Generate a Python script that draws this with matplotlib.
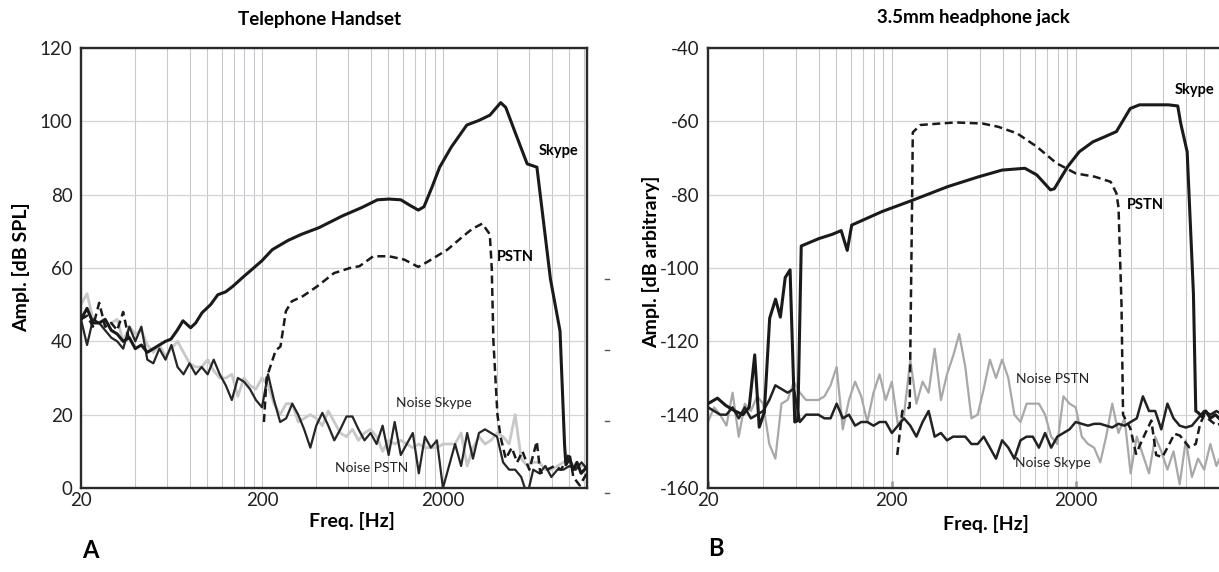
import numpy as np
import matplotlib
matplotlib.use('Agg')
import matplotlib.pyplot as plt
from matplotlib.ticker import NullFormatter
from matplotlib.lines import Line2D

plt.rcParams['font.family'] = ['Lato', 'DejaVu Sans']
plt.rcParams['axes.unicode_minus'] = False

W, H = 1219, 572

# sampling grid of the noise spectra (Hz)
freq = [20, 21.6, 23.3, 25.2, 27.2, 29.4, 31.7, 34.2, 37.0, 39.9, 43.1, 46.5, 50.2, 54.2, 58.6,
        63.2, 68.3, 73.7, 79.6, 86.0, 92.8, 100.2, 108.2, 116.9, 126.2, 136.3, 147.1, 158.9, 171.5, 185.2,
        200, 216, 233, 252, 272, 294, 317, 342, 370, 399, 431, 465, 502, 542, 586,
        632, 683, 737, 796, 860, 928, 1002, 1082, 1169, 1262, 1363, 1471, 1589, 1715, 1852,
        2000, 2160, 2333, 2520, 2721, 2929, 3162, 3415, 3687, 3981, 4299, 4642, 5012, 5412, 5843,
        6310, 6813, 7356, 7943, 8577, 9261, 10000, 10800, 11660, 12590]

# ---- A: telephone handset (dB SPL) ----
noise_pstn_A = [46, 39, 46, 45, 43, 41, 40, 38,
                44, 40, 44, 35, 34, 38, 35, 39, 33, 31, 34, 31, 33, 31, 35, 31, 28, 24, 30, 29, 27, 24, 22, 31,
                24, 18, 19, 23, 20, 16, 11, 17, 20.5, 17, 13, 16, 19.5, 19.5, 16, 13, 15, 12, 17, 9, 18, 9, 12, 15, 4, 14, 11, 13,
                0, 6, 12, 6, 15, 8, 15, 16, 15, 14, 7, 5, 5, 3, -2, 5, 4, 6, 3, 5, 5, 6, 5, 7, 5]
noise_skype_A = [50, 53, 46, 45, 44, 45, 46, 40, 44, 42, 43, 39, 37, 39, 36, 38, 40, 37, 34, 33, 33, 35, 32, 30, 30, 31, 25, 30, 28, 27, 30,
                 28, 23, 20, 23, 23, 18, 19, 20, 19, 17, 21, 18, 15, 14, 16, 13, 15, 16, 14, 10,
                 13, 12, 13, 12, 11, 12, 11, 11, 11, 12, 12, 12, 15, 6, 11, 14, 12, 13, 15, 14,
                 12, 20, 8, 6, 7, 7, 5, 5, 6, 7, 8, 5, 6, 6]
skype_A_f = [20, 21.6, 23.3, 25.2, 27.2, 29.4, 31.7, 34.2, 37, 39.9, 43.1, 46.5, 50.2, 54.2, 58.6, 62.8, 68, 73.2, 80.7, 86,
             93.3, 104, 114, 126, 138, 157, 175, 200, 228, 278, 331, 413, 556, 713, 869, 1007, 1170, 1323, 1461, 1571,
             1738, 1918, 2225, 2710, 3146, 3637, 4170, 4445, 5036, 5838, 6610, 7850, 8870, 9400, 9560, 10000, 10500,
             11000, 11600, 12600]
skype_A = [46, 49, 45, 45, 46, 43, 42, 40, 41, 38, 39, 37, 38, 39, 40, 40.6, 43, 45.6, 43.7, 45,
           47.8, 50, 52.7, 53.5, 55, 57.5, 59.5, 62, 65, 67.5, 69.2, 71, 74.2, 76.5, 78.6, 78.8, 78.6, 77, 75.8, 76.7,
           82, 87.5, 93, 99, 100.2, 101.7, 105.1, 103.8, 96.7, 88.4, 87.5, 57, 42.8, 11.6, 6.3, 8, 5,
           7, 4, 6]
pstn_A_f = [20, 21.6, 23.3, 25.2, 27.2, 29.4, 31.7, 34.2, 37, 100, 205, 212, 222, 238, 253, 271, 292, 336, 404, 500,
            613, 692, 824, 1007, 1222, 1461, 1657, 2116, 2590, 2910, 3297, 3630, 3720, 3800, 4000, 4160, 4445, 4800,
            5140, 5500, 6000, 6600, 6900, 7500, 8300, 9000, 10000, 10500, 11400, 12600]
pstn_A = [46, 47, 44, 50.5, 44, 45, 43, 48, 40, np.nan, 18, 30, 33, 37.5, 38.6, 48.2, 50.9, 52.3, 55, 58.6,
          60, 60.5, 63.2, 63.2, 62.3, 60.3, 61.8, 65, 68.7, 70.7, 72.1, 69.2, 60, 40, 20, 14, 8, 11,
          7, 10, 5, 12.7, 4, 5, 6, 5, 9.5, 3, 0.7, 4.4]

# ---- B: 3.5 mm headphone jack (dB arbitrary) ----
noise_pstn_B = [-142, -138, -140, -143, -134, -146, -137, -139, -135, -137,
                -148, -152, -137, -136, -131, -134, -136, -136, -136, -135,
                -132, -127, -144, -136, -131, -135, -142, -134, -129, -136,
                -131, -143, -140, -125, -137, -131, -134, -122, -136, -129,
                -124, -118, -127, -141, -140, -133, -125, -130, -125, -130,
                -140, -142, -137, -137, -137, -140, -146, -148, -135, -137,
                -138, -146, -148, -149, -153, -146, -137, -145, -141, -156,
                -146, -151, -156, -146, -150, -155, -150, -159, -147, -157,
                -152, -155, -148, -154, -150]
noise_skype_B = [-138, -139, -140, -140, -138, -141, -138, -141, -140, -139,
                 -136, -132, -133, -134, -133, -142, -140, -140, -140, -141,
                 -141, -137, -141, -140, -143, -142, -142, -143, -142, -142,
                 -145, -143, -141, -143, -146, -142, -139, -146, -145, -147,
                 -146, -146, -146, -148, -148, -146, -149, -152, -147, -149,
                 -152, -147, -146, -146, -149, -145, -149, -146, -145, -144,
                 -142, -142.5, -143, -142.5, -142.5, -143, -143.5, -142.5, -143, -142,
                 -141, -135, -139, -139, -144, -137, -141, -143, -143.5, -143,
                 -141, -139, -140, -139, -140]
skype_B_f = [20, 22.5, 25, 28, 31, 33.5, 35.9, 38, 40.5, 43.3, 46.6, 49.5, 52.6, 55.9, 59.3, 61.6, 64.3, 80, 95, 106,
             114.4, 121, 177, 260, 403, 595, 795, 1058, 1228, 1458, 1530, 1806, 2092, 2480, 2880, 3330, 3500, 3960,
             4450, 6380, 7180, 7450, 8080, 8740, 9000, 9300, 9700, 10200, 10800, 11500, 12600]
skype_B = [-137, -135.5, -137.5, -139, -140, -138, -123.7, -143.4, -139.3, -113.7, -108.5, -113.4, -102.6, -100.5, -142, -141.6, -94, -92, -90.8, -89.8,
           -95.2, -88.3, -84.6, -81.5, -77.8, -75.1, -73.3, -72.8, -74.6, -78.7, -78.4, -72.4, -68.3, -65.6, -64.2, -62.8, -61, -56.5,
           -55.5, -55.5, -55.8, -60.5, -68.3, -107, -139, -139.5, -140.5, -139, -141, -140, -142]
pstn_B_f = [214, 228, 250, 258, 260, 286, 365, 444, 623, 760, 961, 1228, 1570, 2000, 2540, 3100, 3330, 3420, 3550, 3620,
            3970, 4260, 4720, 5160, 5480, 5920, 6400, 6900, 7380, 8300, 9000, 9500, 10000, 11700, 12600]
pstn_B = [-151, -139, -138, -80, -63, -61, -60.6, -60.3, -60.6, -61.5, -63.3, -66.9, -71.4, -74.2, -75.1, -76.5, -79.6, -83.5, -110, -140,
          -143.8, -150.7, -145.7, -141.6, -151, -151.6, -148.4, -145.2, -145.7, -148.9, -148, -142.5, -140.2, -143, -142]

grid_f = [20 * m for m in range(1, 10)] + [200 * m for m in range(1, 10)] + [2000 * m for m in range(1, 7)]


def fx(x):
    return x / W


def fy(y):
    return 1 - y / H


def style(ax, ylo, yhi):
    ax.set_xscale('log')
    ax.set_xlim(20, 12500)
    ax.set_ylim(ylo, yhi)
    ax.set_xticks(grid_f, minor=True)
    ax.set_xticks([20, 200, 2000], ['20', '200', '2000'])
    ax.xaxis.set_minor_formatter(NullFormatter())
    ax.set_yticks(np.arange(ylo, yhi + 1, 20))
    ax.grid(which='both', axis='x', color='#c6c9ce', lw=0.8)
    ax.grid(which='major', axis='y', color='#d4d4d4', lw=0.9)
    ax.tick_params(which='both', length=0, labelsize=13.5, colors='#222222')
    ax.tick_params(axis='x', pad=3)
    ax.tick_params(axis='y', pad=6)
    for s in ax.spines.values():
        s.set_linewidth(1.7)
        s.set_color('#2a2a2a')
    ax.set_axisbelow(True)


fig = plt.figure(figsize=(W / 100, H / 100), dpi=100)
axA = fig.add_axes([fx(81), fy(488), 506 / W, 440 / H])
axB = fig.add_axes([fx(708), fy(488), 514 / W, 440 / H])

style(axA, 0, 120)
style(axB, -160, -40)
axB.tick_params(axis='x', which='major', direction='in', length=5, width=2, color='#a0a0a0')

dash = (0, (3.2, 1.8))

# panel A
axA.plot(freq, noise_skype_A, color='#c8c8c8', lw=2.0, zorder=2)
axA.plot(freq, noise_pstn_A, color='#262626', lw=1.6, zorder=3)
axA.plot(pstn_A_f, pstn_A, color='#1a1a1a', lw=1.8, ls=dash, zorder=4)
axA.plot(skype_A_f, skype_A, color='#1a1a1a', lw=2.2, zorder=5)

# panel B
axB.plot(freq, noise_pstn_B, color='#a8a8a8', lw=1.6, zorder=2)
axB.plot(freq, noise_skype_B, color='#222222', lw=1.8, zorder=3)
axB.plot(pstn_B_f, pstn_B, color='#1a1a1a', lw=1.8, ls=dash, zorder=4)
axB.plot(skype_B_f, skype_B, color='#1a1a1a', lw=2.2, zorder=5)

# titles and axis labels
bold = dict(ha='center', va='center', fontweight='bold')
fig.text(fx(320), fy(20), 'Telephone Handset', fontsize=13.5, **bold)
fig.text(fx(973), fy(18), '3.5mm headphone jack', fontsize=13.5, **bold)
fig.text(fx(21), fy(267), 'Ampl. [dB SPL]', rotation=90, fontsize=14, **bold)
fig.text(fx(651), fy(262), 'Ampl. [dB arbitrary]', rotation=90, fontsize=14, **bold)
fig.text(fx(352), fy(521), 'Freq. [Hz]', fontsize=14, **bold)
fig.text(fx(986), fy(524), 'Freq. [Hz]', fontsize=14, **bold)
fig.text(fx(90), fy(551), 'A', fontsize=17, **bold)
fig.text(fx(716), fy(549), 'B', fontsize=17, **bold)

# curve labels
fig.text(fx(559), fy(151), 'Skype', fontsize=10.5, **bold)
fig.text(fx(515), fy(257), 'PSTN', fontsize=10.5, **bold)
fig.text(fx(434), fy(403), 'Noise Skype', ha='center', va='center', fontsize=10, color='#222222')
fig.text(fx(372), fy(468), 'Noise PSTN', ha='center', va='center', fontsize=10, color='#222222')
fig.text(fx(1195), fy(90), 'Skype', fontsize=10.5, **bold)
fig.text(fx(1145), fy(205), 'PSTN', fontsize=10.5, **bold)
fig.text(fx(1053), fy(379), 'Noise PSTN', ha='center', va='center', fontsize=10, color='#222222')
fig.text(fx(1053), fy(463), 'Noise Skype', ha='center', va='center', fontsize=10, color='#222222')

# stray tick dashes right of panel A
for yy in (279, 350, 421, 493):
    fig.add_artist(Line2D([fx(605), fx(609)], [fy(yy), fy(yy)], color='#555555', lw=1))

fig.savefig('out.png', dpi=100, facecolor='white')
